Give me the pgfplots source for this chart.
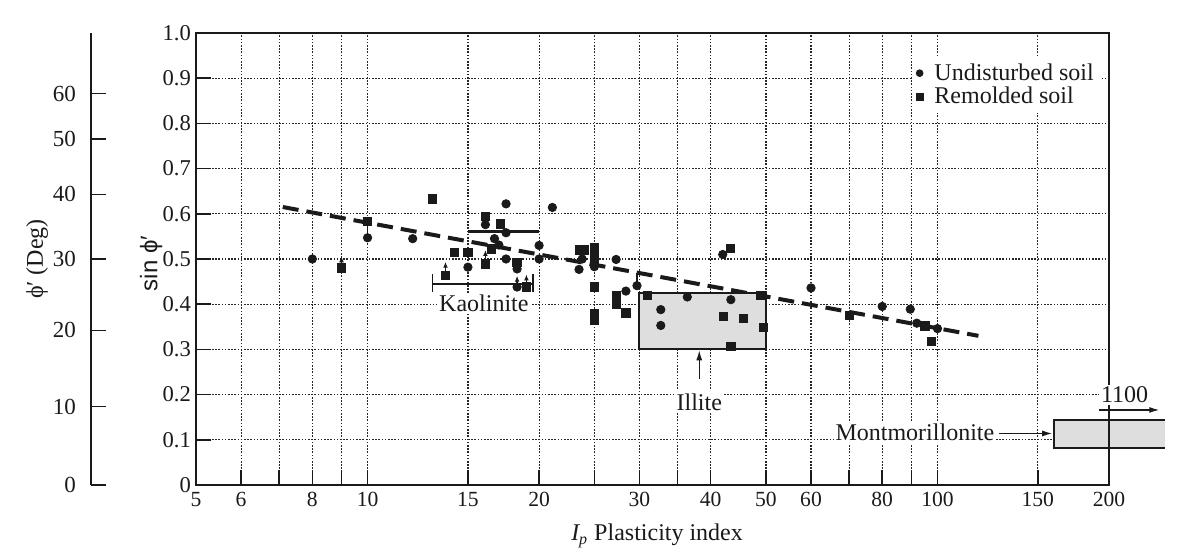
\documentclass[border=0pt]{standalone}
\usepackage{pgfplots}
\pgfplotsset{compat=1.18}
\usepackage{fontspec}
\setmainfont{Liberation Serif}
\setsansfont{Liberation Sans}
\usetikzlibrary{arrows.meta}
\definecolor{ink}{HTML}{1A1A1A}
\begin{document}
\begin{tikzpicture}[font=\fontsize{12}{14}\selectfont, color=ink]
\useasboundingbox (-98pt,-33.5pt) rectangle (492pt,242.5pt);
% phi' (Deg) scale
\begin{axis}[at={(-52.5pt,0pt)}, anchor=south west, scale only axis,
  width=1pt, height=226pt, xmin=0, xmax=1, ymin=0, ymax=1,
  hide x axis, axis y line*=left,
  axis line style={line width=0.9pt, ink},
  ytick={0,0.173648,0.342020,0.5,0.642788,0.766044,0.866025},
  yticklabels={0,10,20,30,40,50,60},
  tick align=inside, major tick length=7.5pt, tick style={line width=0.8pt, ink},
  yticklabel style={xshift=-4pt, font=\fontsize{11.5}{13}\selectfont},
  ylabel={ϕ′ (Deg)},
  ylabel style={at={(axis description cs:-27,0.5)}, anchor=center}]
\end{axis}
% main axis
\begin{axis}[at={(0pt,0pt)}, anchor=south west, scale only axis,
  width=456.5pt, height=226pt, clip=false,
  xmode=log, xmin=5, xmax=200, ymin=0, ymax=1,
  xtick={5,6,7,8,9,10,15,20,25,30,35,40,50,60,70,80,90,100,150,200},
  xticklabels={5,6,,8,,10,15,20,,30,,40,50,60,,80,,100,150,200},
  ytick={0,0.1,0.2,0.3,0.4,0.5,0.6,0.7,0.8,0.9,1.0},
  yticklabels={0,0.1,0.2,0.3,0.4,0.5,0.6,0.7,0.8,0.9,1.0},
  xtick pos=bottom, ytick pos=left, tick align=inside, major tick length=7.5pt,
  tick style={line width=0.8pt, ink},
  xticklabel style={font=\fontsize{10.8}{13}\selectfont},
  yticklabel style={xshift=1pt, font=\fontsize{11.3}{13}\selectfont},
  grid=major, grid style={dash pattern=on 0.8pt off 0.8pt, black!85, line width=0.6pt},
  axis line style={line width=0.9pt, ink},
  xlabel={{\itshape I\textsubscript{p}} Plasticity index},
  xlabel style={at={(axis description cs:0.505,-0.113)}, anchor=center},
  ylabel={\sffamily sin ϕ′},
  ylabel style={at={(axis description cs:-0.049,0.49)}, anchor=center},
  legend entries={Undisturbed soil, Remolded soil},
  legend cell align=left,
  legend image code/.code={\path[draw=none,fill=none] (0cm,-0.05cm) rectangle (0.27cm,0.05cm); \draw[#1, mark size=1.7pt] plot coordinates {(0.08cm,0cm)};},
  legend style={at={(0.785,0.947)}, anchor=north west, draw=none, fill=white,
    inner sep=1pt, row sep=-2pt, font=\fontsize{12}{14}\selectfont},
]
\addplot[only marks, mark=*, mark size=2.1pt, ink] coordinates {
(8,0.50) (10,0.547) (12.0,0.545) (15,0.482) (16.1,0.576) (16.7,0.545)
(17.0,0.531) (17.5,0.622) (17.5,0.558) (17.5,0.50) (18.3,0.478) (18.3,0.438)
(20,0.53) (20,0.50) (21.1,0.614) (23.5,0.477) (23.8,0.50) (25,0.483)
(27.3,0.499) (28.4,0.429) (29.7,0.441) (32.7,0.388) (32.7,0.353) (36.4,0.416)
(42,0.51) (43.4,0.41) (60,0.436) (80,0.395) (89.6,0.389) (92,0.358) (100,0.346)
};
\addplot[only marks, mark=square*, mark size=2.1pt, ink] coordinates {
(9,0.48) (10,0.583) (13.0,0.633) (13.7,0.464) (14.2,0.515) (15,0.514)
(16.1,0.594) (16.1,0.489) (16.5,0.522) (17.1,0.578) (18.3,0.493) (19.0,0.438)
(23.6,0.52) (24.0,0.52) (25,0.525) (25,0.51) (25,0.495) (25,0.438) (25,0.38) (25,0.365)
(27.3,0.418) (27.3,0.399) (28.4,0.381) (31,0.419) (42.1,0.373) (43.3,0.524)
(45.7,0.369) (49.5,0.349) (49,0.42) (43.4,0.307) (70,0.375) (95,0.352) (97.5,0.318)
};
% trend line
\addplot[ink, line width=2pt, dash pattern=on 8pt off 4pt, forget plot] coordinates {(7.1,0.615) (118,0.33)};
% Kaolinite bars
\addplot[ink, line width=1.6pt, forget plot] coordinates {(15,0.561) (20,0.561)};
\addplot[ink, line width=0.7pt, forget plot] coordinates {(13.0,0.427) (13.0,0.466)};
\addplot[ink, line width=0.7pt, forget plot] coordinates {(13.0,0.445) (19.5,0.445)};
\addplot[ink, line width=0.7pt, forget plot] coordinates {(19.5,0.427) (19.5,0.466)};
% Illite box
\addplot[fill=black!13, draw=ink, line width=1pt, forget plot] coordinates {(30,0.3) (50,0.3) (50,0.425) (30,0.425)} --cycle;
% Montmorillonite box
\addplot[fill=black!13, draw=none, forget plot] coordinates {(160,0.082) (251,0.082) (251,0.143) (160,0.143)} --cycle;
\addplot[ink, line width=1pt, forget plot] coordinates {(251,0.143) (160,0.143) (160,0.082) (251,0.082)};
\draw[line width=0.9pt, ink] (axis cs:200,0.07) -- (axis cs:200,0.16);
% small arrows / connectors
\draw[-{Latex[length=3pt,width=2.4pt]}, line width=0.6pt] (axis cs:9,0.488) -- (axis cs:9,0.506);
\draw[-{Latex[length=3pt,width=2.4pt]}, line width=0.6pt] (axis cs:13.7,0.472) -- (axis cs:13.7,0.494);
\draw[-{Latex[length=3pt,width=2.4pt]}, line width=0.6pt] (axis cs:16.1,0.497) -- (axis cs:16.1,0.52);
\draw[-{Latex[length=3pt,width=2.4pt]}, line width=0.6pt] (axis cs:18.3,0.446) -- (axis cs:18.3,0.463);
\draw[-{Latex[length=3pt,width=2.4pt]}, line width=0.6pt] (axis cs:19.0,0.446) -- (axis cs:19.0,0.466);
\draw[line width=0.6pt] (axis cs:10,0.55) -- (axis cs:10,0.58);
\draw[line width=0.6pt] (axis cs:29.7,0.445) -- (axis cs:29.7,0.47);
% labels
\node[fill=white, inner sep=1pt] at (axis cs:16,0.401) {Kaolinite};
\draw[-{Latex[length=5pt,width=3pt]}, line width=0.6pt] (axis cs:38.2,0.235) -- (axis cs:38.2,0.298);
\node[fill=white, inner sep=1pt] at (axis cs:38.2,0.184) {Illite};
\node[fill=white, inner sep=1pt, anchor=east] at (axis cs:127,0.117) {Montmorillonite};
\draw[-{Latex[length=5pt,width=3pt]}, line width=0.6pt] (axis cs:128,0.114) -- (axis cs:159,0.114);
\node[fill=white, inner sep=1pt] at (axis cs:213,0.2) {1100};
\draw[-{Latex[length=5pt,width=3pt]}, line width=0.6pt] (axis cs:192,0.166) -- (axis cs:245,0.166);
\end{axis}
\end{tikzpicture}
\end{document}
